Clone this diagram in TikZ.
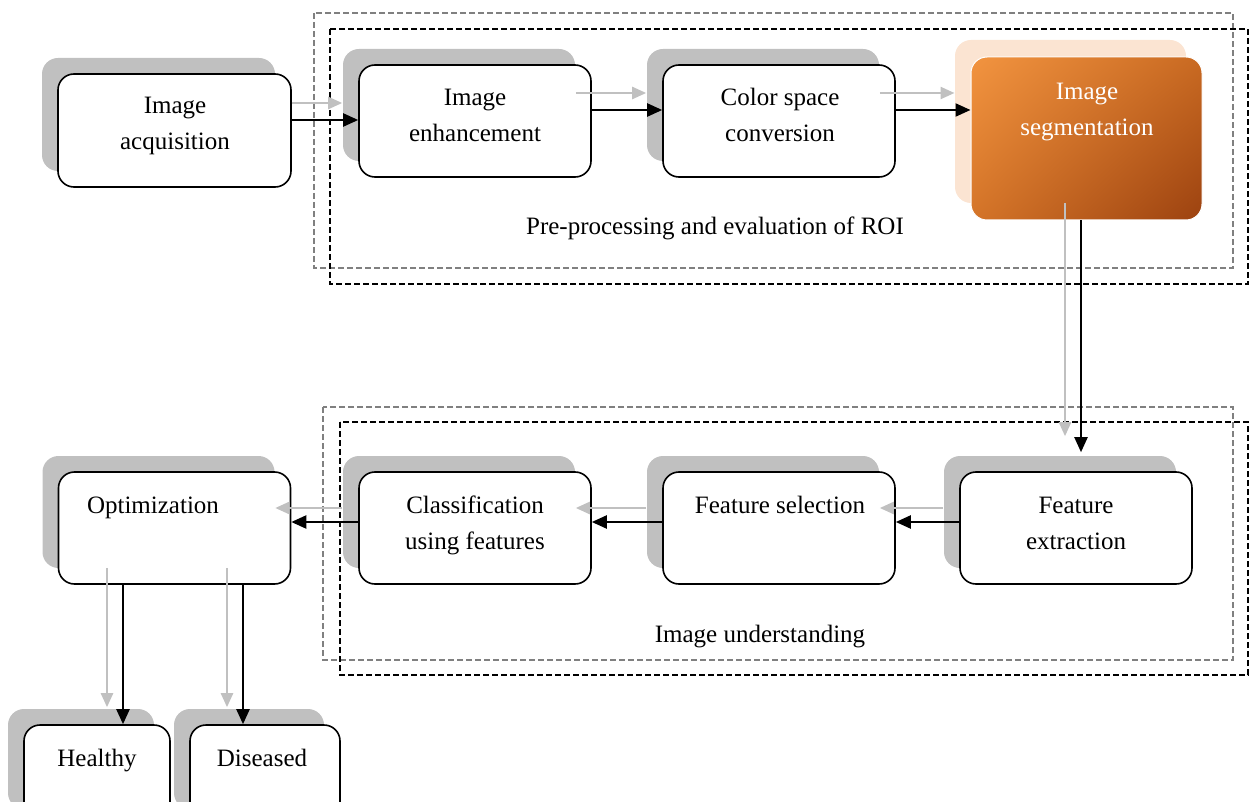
\documentclass[tikz,border=0pt]{standalone}
\usepackage{fontspec}
\setmainfont{Liberation Serif}
\usetikzlibrary{arrows.meta,shadows,shadings}
\definecolor{shgray}{HTML}{C0C0C0}
\definecolor{peach}{HTML}{FBE4D2}
\definecolor{dgray}{HTML}{808080}
\definecolor{orA}{HTML}{F29440}
\definecolor{orB}{HTML}{C96A22}
\definecolor{orC}{HTML}{D47428}
\definecolor{orD}{HTML}{9C4210}
\begin{document}
\begin{tikzpicture}[x=1pt,y=-1pt,
  every node/.style={font=\fontsize{25pt}{36pt}\selectfont},
  box/.style={draw=black, line width=1.6pt, rounded corners=16pt, fill=white,
    minimum width=232pt, minimum height=112pt, inner sep=0pt,
    general shadow={shadow xshift=-16pt, shadow yshift=16pt, fill=shgray}},
  segbox/.style={draw=white, line width=1pt, rounded corners=16pt,
    minimum width=231pt, minimum height=163pt, inner sep=0pt,
    general shadow={shadow xshift=-16pt, shadow yshift=17pt, fill=peach},
    upper left=orA, upper right=orB, lower left=orC, lower right=orD},
  txt/.style={anchor=base, align=center, inner sep=0pt},
  garrow/.style={draw=shgray, line width=2.4pt, -{Triangle[length=14pt,width=12pt]}},
  barrow/.style={draw=black, line width=2.2pt, -{Triangle[length=15pt,width=13pt]}},
  gframe/.style={draw=dgray, line width=1.3pt, dash pattern=on 6pt off 3pt},
  bframe/.style={draw=black, line width=1.5pt, dash pattern=on 6pt off 3pt}]
\useasboundingbox (0,0) rectangle (1250,802);

% frames
\draw[gframe] (314,13) rectangle (1233,268);
\draw[bframe] (330,29) rectangle (1248,284);
\draw[gframe] (323,407) rectangle (1233,660);
\draw[bframe] (340,422) rectangle (1248,675);

% boxes
\node[box, minimum width=233pt, minimum height=113pt] (acq) at (174.5,130.5) {};
\node[box] (enh) at (475,121) {};
\node[box] (col) at (779,121) {};
\node[segbox, shade] (seg) at (1086.5,138.5) {};
\node[box] (fe) at (1076,528) {};
\node[box] (fs) at (779,528) {};
\node[box] (cls) at (475,528) {};
\node[box] (opt) at (174.5,528) {};
\node[box, minimum width=146pt, minimum height=100pt] (hea) at (97,775) {};
\node[box, minimum width=150pt, minimum height=100pt] (dis) at (265,775) {};

% texts (base = last line)
\node[txt] (acq-t) at (175,150) {Image\\acquisition};
\node[txt] (enh-t) at (475,142) {Image\\enhancement};
\node[txt] (col-t) at (780,142) {Color space\\conversion};
\node[txt, text=white] (seg-t) at (1087,136) {Image\\segmentation};
\node[txt] (fe-t) at (1076,549) {Feature\\extraction};
\node[txt] (fs-t) at (780,513) {Feature selection};
\node[txt] (cls-t) at (475,549) {Classification\\using features};
\node[txt] (opt-t) at (153,513) {Optimization};
\node[txt] (hea-t) at (97,766) {Healthy};
\node[txt] (dis-t) at (262,766) {Diseased};
\node[txt] (pre-l) at (715,235) {Pre-processing and evaluation of ROI};
\node[txt] (und-l) at (760,642) {Image understanding};

% top row arrows
\draw[garrow, shorten >=16pt] (acq.east |- 0,103) -- (enh.west |- 0,103);
\draw[barrow] (acq.east |- 0,120) -- (enh.west |- 0,120);
\draw[garrow, shorten <=-16pt, shorten >=16pt] (enh.east |- 0,93) -- (col.west |- 0,93);
\draw[barrow] (enh.east |- 0,110) -- (col.west |- 0,110);
\draw[garrow, shorten <=-16pt, shorten >=16pt] (col.east |- 0,93) -- (seg.west |- 0,93);
\draw[barrow] (col.east |- 0,110) -- (seg.west |- 0,110);

% down from segmentation
\draw[garrow, shorten <=-17pt, shorten >=35pt] (1065,0 |- seg.south) -- (1065,0 |- fe.north);
\draw[barrow, shorten >=19pt] (1081,0 |- seg.south) -- (1081,0 |- fe.north);

% bottom row arrows
\draw[garrow, shorten <=16pt, shorten >=-16pt] (fe.west |- 0,508) -- (fs.east |- 0,508);
\draw[barrow] (fe.west |- 0,522) -- (fs.east |- 0,522);
\draw[garrow, shorten <=16pt, shorten >=-16pt] (fs.west |- 0,508) -- (cls.east |- 0,508);
\draw[barrow] (fs.west |- 0,522) -- (cls.east |- 0,522);
\draw[garrow, shorten <=16pt, shorten >=-16pt] (cls.west |- 0,508) -- (opt.east |- 0,508);
\draw[barrow] (cls.west |- 0,522) -- (opt.east |- 0,522);

% down to outcomes
\draw[garrow, shorten <=-17pt, shorten >=17pt] (107,0 |- opt.south) -- (107,0 |- hea.north);
\draw[barrow] (123,0 |- opt.south) -- (123,0 |- hea.north);
\draw[garrow, shorten <=-17pt, shorten >=17pt] (227,0 |- opt.south) -- (227,0 |- dis.north);
\draw[barrow] (243,0 |- opt.south) -- (243,0 |- dis.north);
\end{tikzpicture}
\end{document}
